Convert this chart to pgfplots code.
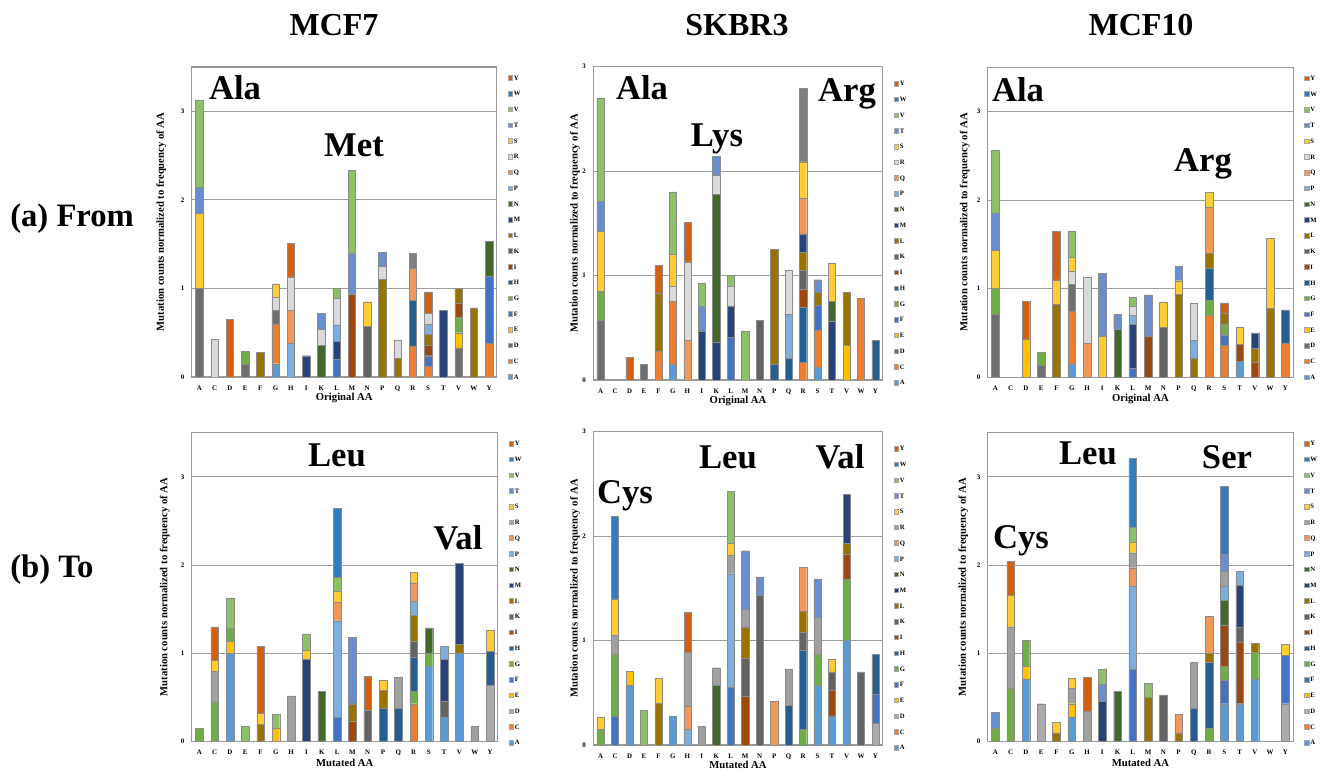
\documentclass[border=0pt]{standalone}
\usepackage{fontspec}
\setmainfont{Liberation Serif}
\usepackage{pgfplots}
\usepackage{pgfplotstable}
\pgfplotsset{compat=1.18}

\definecolor{cA}{HTML}{5B9BD5}\definecolor{cC}{HTML}{ED7D31}
\definecolor{cE}{HTML}{FFC000}\definecolor{cF}{HTML}{4472C4}
\definecolor{cG}{HTML}{70AD47}\definecolor{cH}{HTML}{255E91}
\definecolor{cI}{HTML}{9E480E}\definecolor{cK}{HTML}{636363}
\definecolor{cL}{HTML}{997300}\definecolor{cM}{HTML}{264478}
\definecolor{cN}{HTML}{43682B}\definecolor{cP}{HTML}{7CAFDD}
\definecolor{cQ}{HTML}{F1975A}\definecolor{cS}{HTML}{FFCD33}
\definecolor{cT}{HTML}{698ED0}\definecolor{cV}{HTML}{8CC168}
\definecolor{cW}{HTML}{327DC2}\definecolor{cY}{HTML}{D26012}
% top row variants
\definecolor{cDtop}{HTML}{6F6F6F}\definecolor{cRtop}{HTML}{DADADA}\definecolor{cWtop}{HTML}{7F7F7F}
% bottom row variants
\definecolor{cDbot}{HTML}{ABABAB}\definecolor{cRbot}{HTML}{A0A0A0}

% (a) From -- rows: original AA, columns: mutated AA
\pgfplotstableread{
aa A C D E F G H I K L M N P Q R S T V W Y
A 0 0 1.00 0 0 0 0 0 0 0 0 0 0 0 0 0.85 0.29 0.99 0 0
C 0 0 0 0 0 0 0 0 0 0 0 0 0 0 0.43 0 0 0 0 0
D 0 0 0 0 0 0 0 0 0 0 0 0 0 0 0 0 0 0 0 0.65
E 0 0 0.14 0 0 0.15 0 0 0 0 0 0 0 0 0 0 0 0 0 0
F 0 0 0 0 0 0 0 0 0 0.28 0 0 0 0 0 0 0 0 0 0
G 0.15 0.45 0.15 0 0 0 0 0 0 0 0 0 0 0 0.15 0.15 0 0 0 0
H 0 0 0 0 0 0 0 0 0 0 0 0 0.38 0.37 0.38 0 0 0 0 0.38
I 0 0 0 0 0 0 0 0 0 0 0.24 0 0 0 0 0 0 0 0 0
K 0 0 0 0 0 0 0 0 0 0 0 0.36 0 0 0.18 0 0.18 0 0 0
L 0 0 0 0 0.20 0 0 0 0 0 0.20 0 0.19 0 0.30 0 0 0.11 0 0
M 0 0 0 0 0 0 0 0.93 0 0 0 0 0 0 0 0 0.47 0.93 0 0
N 0 0 0 0 0 0 0 0 0.57 0 0 0 0 0 0 0.28 0 0 0 0
P 0 0 0 0 0 0 0 0 0 1.10 0 0 0 0 0.15 0 0.16 0 0 0
Q 0 0 0 0 0 0 0 0 0 0.21 0 0 0 0 0.21 0 0 0 0 0
R 0 0.35 0 0 0 0 0.52 0 0 0 0 0 0 0.36 0 0 0 0 0.17 0
S 0 0.12 0 0 0.12 0 0 0.12 0 0.12 0 0 0.12 0 0.12 0 0 0 0 0.24
T 0 0 0 0 0 0 0 0 0 0 0.75 0 0 0 0 0 0 0 0 0
V 0 0 0.33 0.17 0 0.17 0 0.16 0 0.17 0 0 0 0 0 0 0 0 0 0
W 0 0 0 0 0 0 0 0 0 0.78 0 0 0 0 0 0 0 0 0 0
Y 0 0.38 0 0 0.76 0 0 0 0 0 0 0.39 0 0 0 0 0 0 0 0
}\tabFa
\pgfplotstableread{
aa A C D E F G H I K L M N P Q R S T V W Y
A 0 0 0.57 0 0 0.28 0 0 0 0 0 0 0 0 0 0.57 0.29 0.99 0 0
C 0 0 0 0 0 0 0 0 0 0 0 0 0 0 0 0 0 0 0 0
D 0 0 0 0 0 0 0 0 0 0 0 0 0 0 0 0 0 0 0 0.22
E 0 0 0.15 0 0 0 0 0 0 0 0 0 0 0 0 0 0 0 0 0
F 0 0.28 0 0 0 0 0 0 0 0.55 0 0 0 0 0 0 0 0 0 0.27
G 0.15 0.60 0 0 0 0 0 0 0 0 0 0 0 0 0.15 0.30 0 0.60 0 0
H 0 0 0 0 0 0 0 0 0 0 0 0 0 0.38 0.75 0 0 0 0 0.38
I 0 0 0 0 0 0 0 0 0 0 0.47 0 0 0 0 0 0.24 0.22 0 0
K 0 0 0 0 0 0 0 0 0 0 0.36 1.42 0 0 0.18 0 0.18 0 0 0
L 0 0 0 0 0.41 0 0 0 0 0 0.30 0 0 0 0.19 0 0 0.10 0 0
M 0 0 0 0 0 0 0 0 0 0 0 0 0 0 0 0 0 0.47 0 0
N 0 0 0 0 0 0 0 0 0.57 0 0 0 0 0 0 0 0 0 0 0
P 0 0 0 0 0 0 0.15 0 0 1.10 0 0 0 0 0 0 0 0 0 0
Q 0 0 0 0 0 0 0.21 0 0 0 0 0 0.42 0 0.42 0 0 0 0 0
R 0 0.17 0 0 0 0 0.53 0.17 0.18 0.17 0.18 0 0 0.34 0 0.35 0 0 0.70 0
S 0.12 0.36 0 0 0.24 0 0 0 0 0.12 0 0 0 0 0 0 0.12 0 0 0
T 0 0 0 0 0 0 0 0 0 0 0.56 0.19 0 0 0 0.37 0 0 0 0
V 0 0 0 0.33 0 0 0 0 0 0.51 0 0 0 0 0 0 0 0 0 0
W 0 0.78 0 0 0 0 0 0 0 0 0 0 0 0 0 0 0 0 0 0
Y 0 0 0 0 0 0 0.38 0 0 0 0 0 0 0 0 0 0 0 0 0
}\tabFb
\pgfplotstableread{
aa A C D E F G H I K L M N P Q R S T V W Y
A 0 0 0.71 0 0 0.29 0 0 0 0 0 0 0 0 0 0.43 0.42 0.71 0 0
C 0 0 0 0 0 0 0 0 0 0 0 0 0 0 0 0 0 0 0 0
D 0 0 0 0.43 0 0 0 0 0 0 0 0 0 0 0 0 0 0 0 0.43
E 0 0 0.14 0 0 0.14 0 0 0 0 0 0 0 0 0 0 0 0 0 0
F 0 0 0 0 0 0 0 0 0 0.82 0 0 0 0 0 0.28 0 0 0 0.55
G 0.15 0.60 0.30 0 0 0 0 0 0 0 0 0 0 0 0.15 0.15 0 0.30 0 0
H 0 0 0 0 0 0 0 0 0 0 0 0 0 0.38 0.75 0 0 0 0 0
I 0 0 0 0 0 0 0 0 0 0 0 0 0 0 0 0.46 0.71 0 0 0
K 0 0 0 0 0 0 0 0 0 0 0 0.54 0 0 0 0 0.17 0 0 0
L 0 0 0 0 0.10 0 0 0 0 0 0.50 0 0.10 0 0.10 0 0 0.10 0 0
M 0 0 0 0 0 0 0 0.46 0 0 0 0 0 0 0 0 0.47 0 0 0
N 0 0 0 0 0 0 0 0 0.57 0 0 0 0 0 0 0.28 0 0 0 0
P 0 0 0 0 0 0 0 0 0 0.94 0 0 0 0 0 0.15 0.16 0 0 0
Q 0 0 0 0 0 0 0 0 0 0.21 0 0 0.21 0 0.42 0 0 0 0 0
R 0 0.70 0 0 0 0.17 0.36 0 0 0.17 0 0 0 0.52 0 0.17 0 0 0 0
S 0 0.36 0 0 0.12 0.12 0 0 0 0.12 0 0 0 0 0 0 0 0 0 0.12
T 0.18 0 0 0 0 0 0 0.19 0 0 0 0 0 0 0 0.19 0 0 0 0
V 0 0 0 0 0 0 0 0.17 0 0.16 0.17 0 0 0 0 0 0 0 0 0
W 0 0 0 0 0 0 0 0 0 0.78 0 0 0 0 0 0.79 0 0 0 0
Y 0 0.38 0 0 0 0 0.38 0 0 0 0 0 0 0 0 0 0 0 0 0
}\tabFc
% (b) To -- rows: mutated AA, columns: original AA
\pgfplotstableread{
aa A C D E F G H I K L M N P Q R S T V W Y
A 0 0 0 0 0 0.15 0 0 0 0 0 0 0 0 0 0 0 0 0 0
C 0 0 0 0 0 0.45 0 0 0 0 0 0 0 0 0.35 0.12 0 0 0 0.38
D 1.00 0 0 0.14 0 0.15 0 0 0 0 0 0 0 0 0 0 0 0.34 0 0
E 0 0 0 0 0 0 0 0 0 0 0 0 0 0 0 0 0 0.17 0 0
F 0 0 0 0 0 0 0 0 0 0.20 0 0 0 0 0 0.12 0 0 0 0.76
G 0 0 0 0.15 0 0 0 0 0 0 0 0 0 0 0 0 0 0.16 0 0
H 0 0 0 0 0 0 0 0 0 0 0 0 0 0 0.52 0 0 0 0 0
I 0 0 0 0 0 0 0 0 0 0 0.93 0 0 0 0 0.11 0 0.18 0 0
K 0 0 0 0 0 0 0 0 0 0 0 0.57 0 0 0 0 0 0 0 0
L 0 0 0 0 0.28 0 0 0 0 0 0 0 1.09 0.21 0 0.12 0 0.16 0.78 0
M 0 0 0 0 0 0 0 0.23 0 0.20 0 0 0 0 0 0 0.75 0 0 0
N 0 0 0 0 0 0 0 0 0.36 0 0 0 0 0 0 0 0 0 0 0.38
P 0 0 0 0 0 0 0.38 0 0 0.20 0 0 0 0 0 0.12 0 0 0 0
Q 0 0 0 0 0 0 0.38 0 0 0 0 0 0 0 0.35 0 0 0 0 0
R 0 0.43 0 0 0 0.14 0.39 0 0.18 0.29 0 0 0.16 0.21 0 0.12 0 0 0 0
S 0.85 0 0 0 0 0.15 0 0 0 0 0 0.29 0 0 0 0 0 0 0 0
T 0.28 0 0 0 0 0 0 0 0.18 0 0.47 0 0.15 0 0 0 0 0 0 0
V 1.00 0 0 0 0 0 0 0 0 0.10 0.92 0 0 0 0 0 0 0 0 0
W 0 0 0 0 0 0 0 0 0 0 0 0 0 0 0.17 0 0 0 0 0
Y 0 0 0.64 0 0 0 0.38 0 0 0 0 0 0 0 0 0.24 0 0 0 0
}\tabTa
\pgfplotstableread{
aa A C D E F G H I K L M N P Q R S T V W Y
A 0 0 0 0 0 0.15 0 0 0 0 0 0 0 0 0 0.12 0 0 0 0
C 0 0 0 0 0.28 0.59 0 0 0 0 0 0 0 0 0.18 0.35 0 0 0.79 0
D 0.57 0 0 0.14 0 0 0 0 0 0 0 0 0 0 0 0 0 0 0 0
E 0 0 0 0 0 0 0 0 0 0 0 0 0 0 0 0 0 0.33 0 0
F 0 0 0 0 0 0 0 0 0 0.40 0 0 0 0 0 0.24 0 0 0 0
G 0.28 0 0 0 0 0 0 0 0 0 0 0 0 0 0 0 0 0 0 0
H 0 0 0 0 0 0 0 0 0 0 0 0 0.15 0.22 0.52 0 0 0 0 0.38
I 0 0 0 0 0 0 0 0 0 0 0 0 0 0 0.18 0 0 0 0 0
K 0 0 0 0 0 0 0 0 0 0 0 0.57 0 0 0.17 0 0 0 0 0
L 0 0 0 0 0.55 0 0 0 0 0 0 0 1.09 0 0.18 0.11 0 0.50 0 0
M 0 0 0 0 0 0 0 0.47 0.36 0.30 0 0 0 0 0.17 0 0.56 0 0 0
N 0 0 0 0 0 0 0 0 1.43 0 0 0 0 0 0 0 0.18 0 0 0
P 0 0 0 0 0 0 0 0 0 0 0 0 0 0.42 0 0 0 0 0 0
Q 0 0 0 0 0 0 0.38 0 0 0 0 0 0 0 0.35 0 0 0 0 0
R 0 0 0 0 0 0.15 0.76 0 0.17 0.20 0 0 0 0.42 0 0 0 0 0 0
S 0.57 0 0 0 0 0.30 0 0 0 0 0 0 0 0 0.35 0 0.37 0 0 0
T 0.28 0 0 0 0 0 0 0.24 0.18 0 0 0 0 0 0 0.12 0 0 0 0
V 1.00 0 0 0 0 0.59 0 0.24 0 0.10 0.47 0 0 0 0 0 0 0 0 0
W 0 0 0 0 0 0 0 0 0.70 0 0 0 0 0 0 0 0 0 0 0
Y 0 0 0.21 0 0.28 0 0.38 0 0 0 0 0 0 0 0 0 0 0 0 0
}\tabTb
\pgfplotstableread{
aa A C D E F G H I K L M N P Q R S T V W Y
A 0 0 0 0 0 0.15 0 0 0 0 0 0 0 0 0 0 0.18 0 0 0
C 0 0 0 0 0 0.60 0 0 0 0 0 0 0 0 0.70 0.36 0 0 0 0.38
D 0.71 0 0 0.14 0 0.30 0 0 0 0 0 0 0 0 0 0 0 0 0 0
E 0 0 0.43 0 0 0 0 0 0 0 0 0 0 0 0 0 0 0 0 0
F 0 0 0 0 0 0 0 0 0 0.10 0 0 0 0 0 0.12 0 0 0 0
G 0.28 0 0 0.15 0 0 0 0 0 0 0 0 0 0 0.17 0.12 0 0 0 0
H 0 0 0 0 0 0 0 0 0 0 0 0 0 0 0.35 0 0 0 0 0.38
I 0 0 0 0 0 0 0 0 0 0 0.46 0 0 0 0 0 0.19 0.17 0 0
K 0 0 0 0 0 0 0 0 0 0 0 0.57 0 0 0 0 0 0 0 0
L 0 0 0 0 0.82 0 0 0 0 0 0 0 0.94 0.21 0.17 0.12 0 0.17 0.78 0
M 0 0 0 0 0 0 0 0 0 0.50 0 0 0 0 0 0 0 0.16 0 0
N 0 0 0 0 0 0 0 0 0.53 0 0 0 0 0 0 0 0 0 0 0
P 0 0 0 0 0 0 0 0 0 0.10 0 0 0 0.21 0 0 0 0 0 0
Q 0 0 0 0 0 0 0.38 0 0 0 0 0 0 0 0.52 0 0 0 0 0
R 0 0 0 0 0 0.15 0.75 0 0 0.10 0 0 0 0.42 0 0 0 0 0 0
S 0.43 0 0 0 0.27 0.15 0 0.47 0 0 0 0.28 0.16 0 0.17 0 0.19 0 0.77 0
T 0.43 0 0 0 0 0 0 0.70 0.17 0 0.47 0 0.16 0 0 0 0 0 0 0
V 0.71 0 0 0 0 0.30 0 0 0 0.10 0 0 0 0 0 0 0 0 0 0
W 0 0 0 0 0 0 0 0 0 0 0 0 0 0 0 0 0 0 0 0
Y 0 0 0.43 0 0.55 0 0 0 0 0 0 0 0 0 0 0.12 0 0 0 0
}\tabTc

% one stacked series: #1 column, #2 bar colour, #3 legend colour, #4 table
\newcommand{\ser}[4]{%
  \addplot[fill=#2, draw=black!45, line width=0.3pt,
    legend image code/.code={\draw[fill=#3, draw=black!35, line width=0.2pt] (0pt,-1.7pt) rectangle (3.4pt,1.7pt);}]
    table[x expr=\coordindex, y=#1]{#4};
  \addlegendentry{#1}}
\newcommand{\allser}[1]{%
  \ser{A}{cA}{cA}{#1}\ser{C}{cC}{cC}{#1}\ser{D}{curD}{curD}{#1}\ser{E}{cE}{cE}{#1}%
  \ser{F}{cF}{cF}{#1}\ser{G}{cG}{cG}{#1}\ser{H}{cH}{cH}{#1}\ser{I}{cI}{cI}{#1}%
  \ser{K}{cK}{cK}{#1}\ser{L}{cL}{cL}{#1}\ser{M}{cM}{cM}{#1}\ser{N}{cN}{cN}{#1}%
  \ser{P}{cP}{cP}{#1}\ser{Q}{cQ}{cQ}{#1}\ser{R}{curR}{curR}{#1}\ser{S}{cS}{cS}{#1}%
  \ser{T}{cT}{cT}{#1}\ser{V}{cV}{cV}{#1}\ser{W}{curW}{cW}{#1}\ser{Y}{cY}{cY}{#1}}

\pgfplotsset{
  panel/.style={
    scale only axis, ybar stacked, bar width=0.5,
    xmin=-0.5, xmax=19.5, ymin=0,
    xtick={0,...,19},
    xticklabels={A,C,D,E,F,G,H,I,K,L,M,N,P,Q,R,S,T,V,W,Y},
    ytick={0,1,2,3},
    ymajorgrids, grid style={draw=black!38, line width=0.8pt},
    axis line style={draw=black!40, line width=0.8pt},
    major tick length=0pt,
    /pgf/number format/assume math mode=true,
    tick label style={font=\bfseries\fontsize{5.2}{6}\selectfont},
    xticklabel style={yshift=-3pt},
    yticklabel style={xshift=-2pt},
    ylabel={Mutation counts normalized to frequency of AA},
    ylabel style={font=\bfseries\fontsize{8}{9}\selectfont, anchor=center},
    xlabel style={font=\bfseries\fontsize{8}{9}\selectfont, at={(axis description cs:0.5,0)}, anchor=center, yshift=-16pt},
    reverse legend,
    legend cell align=left,
    legend style={draw=none, fill=none, at={(1,1)}, anchor=north west,
      xshift=5pt, yshift=-3.5pt,
      font=\bfseries\fontsize{5}{6}\selectfont,
      nodes={inner sep=0.6pt, text height=3.6pt, text depth=0pt},
      row sep=7.0pt, column sep=0.5pt},
  }
}

\begin{document}
\begin{tikzpicture}
\useasboundingbox (0,0) rectangle (994.5pt,578.25pt);
\tikzset{big/.style={font=\bfseries\fontsize{26}{28}\selectfont, anchor=base, inner sep=0pt}}

% titles
\node[font=\bfseries\fontsize{24}{26}\selectfont, anchor=base, inner sep=0pt] at (250.5pt,551.25pt) {MCF7};
\node[font=\bfseries\fontsize{24}{26}\selectfont, anchor=base, inner sep=0pt] at (552.75pt,551.25pt) {SKBR3};
\node[font=\bfseries\fontsize{24}{26}\selectfont, anchor=base, inner sep=0pt] at (855.75pt,551.25pt) {MCF10};
\node[font=\bfseries\fontsize{24.5}{27}\selectfont, anchor=base west, inner sep=0pt] at (7.5pt,408pt) {(a) From};
\node[font=\bfseries\fontsize{24.5}{27}\selectfont, anchor=base west, inner sep=0pt] at (7.5pt,145.5pt) {(b) To};

% ---------- top row ----------
\colorlet{curD}{cDtop}\colorlet{curR}{cRtop}\colorlet{curW}{cWtop}
\begin{axis}[panel, at={(143.8pt,295.5pt)}, anchor=south west,
  width=228.75pt, height=232.5pt, ymax=3.5,
  xlabel={Original AA},
  ylabel style={at={(axis description cs:-0.1,0.5)}}]
\allser{\tabFa}
\end{axis}
\begin{axis}[panel, at={(445pt,293.25pt)}, anchor=south west,
  width=217pt, height=235pt, ymax=3,
  xlabel={Original AA},
  ylabel style={at={(axis description cs:-0.063,0.5)}},
  legend style={yshift=-4.5pt}]
\allser{\tabFb}
\end{axis}
\begin{axis}[panel, at={(740.8pt,295.3pt)}, anchor=south west,
  width=229pt, height=232.5pt, ymax=3.5,
  xlabel={Original AA},
  ylabel style={at={(axis description cs:-0.075,0.5)}}]
\allser{\tabFc}
\end{axis}

% ---------- bottom row ----------
\colorlet{curD}{cDbot}\colorlet{curR}{cRbot}\colorlet{curW}{cW}
\begin{axis}[panel, at={(143.8pt,22pt)}, anchor=south west,
  width=229.5pt, height=231.75pt, ymax=3.5,
  xlabel={Mutated AA},
  ylabel style={at={(axis description cs:-0.088,0.5)}}]
\allser{\tabTa}
\end{axis}
\begin{axis}[panel, at={(445pt,19.5pt)}, anchor=south west,
  width=217pt, height=235pt, ymax=3,
  xlabel={Mutated AA}, xlabel style={yshift=1pt},
  ylabel style={at={(axis description cs:-0.063,0.5)}},
  legend style={yshift=-4.5pt}]
\allser{\tabTb}
\end{axis}
\begin{axis}[panel, at={(740.8pt,22pt)}, anchor=south west,
  width=229pt, height=231.75pt, ymax=3.5,
  xlabel={Mutated AA},
  ylabel style={at={(axis description cs:-0.08,0.5)}}]
\allser{\tabTc}
\end{axis}

% in-chart annotations
\node[big] at (176.25pt,503.8pt) {Ala};
\node[big] at (265.5pt,460.7pt) {Met};
\node[big] at (481.5pt,503.25pt) {Ala};
\node[big] at (537.75pt,468.2pt) {Lys};
\node[big] at (635.25pt,502pt) {Arg};
\node[big] at (763.5pt,502pt) {Ala};
\node[big] at (902.25pt,449.5pt) {Arg};
\node[big] at (252.75pt,228.2pt) {Leu};
\node[big] at (343.5pt,165.75pt) {Val};
\node[big] at (468.75pt,200.8pt) {Cys};
\node[big] at (546pt,227pt) {Leu};
\node[big] at (630pt,227pt) {Val};
\node[big] at (765.75pt,167pt) {Cys};
\node[big] at (816pt,229.5pt) {Leu};
\node[big] at (920.25pt,227pt) {Ser};
\end{tikzpicture}
\end{document}
